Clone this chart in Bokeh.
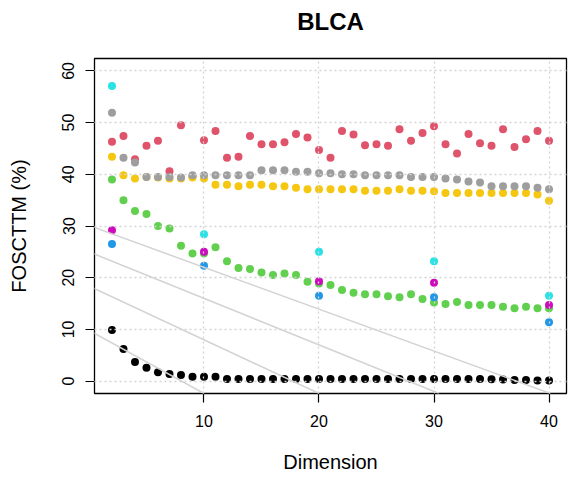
import numpy as np
from bokeh.plotting import figure
from bokeh.models import FixedTicker, Range1d, Slope, LinearAxis
from bokeh.embed import file_html
from bokeh.resources import INLINE

# ---- data ----
dims = list(range(2, 41))
red = [46.3, 47.4, 42.9, 45.5, 46.5, 40.6, 49.5, 39.6, 46.6, 48.4, 43.2, 43.4, 47.4, 45.8, 45.8,
       46.2, 47.8, 47.1, 44.7, 43.2, 48.4, 47.7, 45.6, 45.8, 45.5, 48.7, 46.5, 48.0, 49.3, 45.8,
       44.0, 47.8, 46.0, 45.5, 48.7, 45.3, 46.8, 48.4, 46.5]
gold = [43.4, 39.8, 39.2, 39.5, 39.4, 39.2, 39.2, 39.4, 39.2, 38.0, 38.0, 37.7, 38.0, 38.0, 37.7,
        37.7, 37.4, 37.1, 37.1, 37.1, 37.1, 37.1, 36.8, 36.8, 36.8, 37.1, 36.8, 36.8, 36.7, 36.4,
        36.4, 36.4, 36.4, 36.4, 36.4, 36.4, 36.4, 36.1, 34.9]
grey = [51.9, 43.2, 42.3, 39.5, 39.5, 39.5, 39.4, 39.8, 39.8, 39.8, 39.8, 39.8, 39.8, 40.8, 40.8,
        40.8, 40.5, 40.5, 40.2, 40.2, 40.0, 40.0, 39.8, 39.8, 39.8, 39.8, 39.5, 39.5, 39.5, 39.2,
        39.0, 38.6, 38.4, 37.7, 37.7, 37.7, 37.7, 37.4, 37.1]
green = [39.0, 35.0, 32.9, 32.3, 30.0, 29.5, 26.2, 24.7, 24.7, 25.9, 23.2, 21.9, 21.7, 21.0, 20.5,
         20.8, 20.5, 19.2, 18.9, 18.6, 17.6, 17.1, 16.8, 16.8, 16.4, 16.2, 16.8, 15.9, 15.2, 14.9,
         15.3, 14.7, 14.7, 14.7, 14.4, 14.1, 14.4, 14.1, 14.1]
black = [9.9, 6.2, 3.7, 2.6, 1.7, 1.35, 1.16, 0.83, 0.83, 0.83, 0.4, 0.4, 0.4, 0.4, 0.4,
         0.4, 0.4, 0.4, 0.4, 0.4, 0.4, 0.4, 0.4, 0.4, 0.4, 0.4, 0.4, 0.4, 0.4, 0.4,
         0.4, 0.4, 0.4, 0.35, 0.3, 0.2, 0.2, 0.1, 0.1]
sel_dims = [2, 10, 20, 30, 40]
cyan = [57.1, 28.4, 25.0, 23.2, 16.5]
magenta = [29.2, 25.0, 19.3, 19.0, 14.7]
blue = [26.5, 22.3, 16.5, 16.2, 11.4]
ref_intercepts = [9.8, 18.4, 25.0, 30.1]
ref_slopes = [-1.22, -1.04, -0.90, -0.81]
x_ticks = [10, 20, 30, 40]
y_ticks = [0, 10, 20, 30, 40, 50, 60]
title_text = "BLCA"

FONT = "Liberation Sans"
XR = (0.48, 41.52)
YR = (-2.4, 62.4)

p = figure(width=568, height=480, output_backend="svg", toolbar_location=None,
           x_range=Range1d(*XR), y_range=Range1d(*YR),
           min_border_left=94, min_border_right=2, min_border_top=58, min_border_bottom=87)
p.background_fill_color = "white"
p.border_fill_color = "white"
p.outline_line_color = "black"
p.outline_line_width = 1.3

xa = p.below[0]
ya = p.left[0]

SZ = 8
series = [(dims, red, "#DF536B"), (dims, gold, "#F5C710"), (dims, grey, "#9E9E9E"),
          (dims, green, "#61D04F"), (dims, black, "#000000"),
          (sel_dims, cyan, "#28E2E5"), (sel_dims, magenta, "#CD0BBC"), (sel_dims, blue, "#2297E6")]
for xs, ys, c in series:
    p.scatter(xs, ys, size=SZ, color=c, line_color=None)

for a, b in zip(ref_intercepts, ref_slopes):
    p.add_layout(Slope(gradient=b, y_intercept=a, line_color="#D3D3D3", line_width=1.5))

for ax in (xa, ya):
    ax.axis_line_color = None
    ax.major_tick_line_color = "black"
    ax.major_tick_line_width = 1.2
    ax.major_tick_in = 0
    ax.major_tick_out = 9
    ax.minor_tick_line_color = None
    ax.major_label_text_font = FONT
    ax.major_label_text_font_size = "16px"
    ax.major_label_text_color = "black"
    ax.axis_label_text_font = FONT
    ax.axis_label_text_font_size = "20px"
    ax.axis_label_text_font_style = "normal"
    ax.axis_label_text_color = "black"

xa.ticker = FixedTicker(ticks=x_ticks)
ya.ticker = FixedTicker(ticks=y_ticks)
xa.axis_label = "Dimension"
ya.axis_label = "FOSCTTM (%)"
ya.major_label_orientation = "vertical"
xa.major_label_standoff = 12
ya.major_label_standoff = 11
xa.axis_label_standoff = 21
ya.axis_label_standoff = 30

# title: an empty axis above the frame carrying the title text as its label
tax = LinearAxis(ticker=FixedTicker(ticks=[]), axis_label=title_text)
tax.axis_line_color = None
tax.major_tick_line_color = None
tax.minor_tick_line_color = None
tax.major_tick_out = 0
tax.major_tick_in = 0
tax.major_label_standoff = 0
tax.major_label_text_font_size = "1px"
tax.axis_label_standoff = 24
tax.axis_label_text_font = FONT
tax.axis_label_text_font_size = "24px"
tax.axis_label_text_font_style = "bold"
tax.axis_label_text_color = "black"
p.add_layout(tax, "above")

for g in (p.xgrid, p.ygrid):
    g.grid_line_color = "#D3D3D3"
    g.grid_line_dash = "2 3"
    g.grid_line_width = 1.3
    g.level = "annotation"
p.xgrid.ticker = FixedTicker(ticks=x_ticks)
p.ygrid.ticker = FixedTicker(ticks=y_ticks)

open("out.html", "w").write(file_html(p, INLINE))
